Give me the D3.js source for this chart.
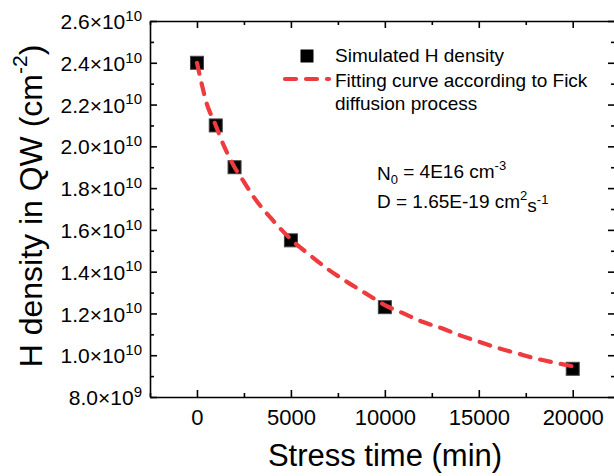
<!DOCTYPE html>
<html>
<head>
<meta charset="utf-8">
<title>H density</title>
<script src="https://cdn.jsdelivr.net/npm/d3@7"></script>
<style>
  body { margin: 0; background: #fff; }
  svg { display: block; font-family: "Liberation Sans", Arial, sans-serif; }
  .axis path, .axis line { stroke: #000; stroke-width: 1.6; }
</style>
</head>
<body>
<script>
// simulated points
var stressTime = [0, 1000, 2000, 5000, 10000, 20000];
var hDensity = [2.40e10, 2.10e10, 1.90e10, 1.55e10, 1.23e10, 0.935e10];

// fitting curve
var fitTime = [0, 250, 500, 750, 1000, 1300, 1600, 2000, 2500, 3000, 4000, 5000, 6000, 7000,
  8000, 9000, 10000, 11000, 12000, 13000, 14000, 15000, 16000, 17000, 18000, 19000, 20000];
var fitDensity = [2.40e10, 2.30e10, 2.21e10, 2.15e10, 2.10e10, 2.03e10, 1.97e10, 1.90e10, 1.83e10,
  1.76e10, 1.65e10, 1.555e10, 1.48e10, 1.41e10, 1.35e10, 1.295e10, 1.24e10, 1.20e10, 1.16e10,
  1.13e10, 1.095e10, 1.065e10, 1.035e10, 1.01e10, 0.985e10, 0.965e10, 0.947e10];

var xTicks = [0, 5000, 10000, 15000, 20000];
var xMinor = [-2500, 2500, 7500, 12500, 17500, 22500];
var yTicks = [0.8e10, 1.0e10, 1.2e10, 1.4e10, 1.6e10, 1.8e10, 2.0e10, 2.2e10, 2.4e10, 2.6e10];
var yMinor = [0.9e10, 1.1e10, 1.3e10, 1.5e10, 1.7e10, 1.9e10, 2.1e10, 2.3e10, 2.5e10];
var yMantissa = ["8.0", "1.0", "1.2", "1.4", "1.6", "1.8", "2.0", "2.2", "2.4", "2.6"];
var yExponent = ["9", "10", "10", "10", "10", "10", "10", "10", "10", "10"];

var W = 614, H = 476;
var pLeft = 150, pRight = 615, pTop = 21, pBottom = 397;

var svg = d3.select("body").append("svg")
  .attr("width", W).attr("height", H);

var x = d3.scaleLinear().domain([-2500, 22250]).range([pLeft, pRight]);
var y = d3.scaleLinear().domain([0.8e10, 2.6e10]).range([pBottom, pTop]);

// bottom axis
var gx = svg.append("g").attr("class", "axis")
  .attr("transform", "translate(0," + pBottom + ")")
  .call(d3.axisBottom(x).tickValues(xTicks).tickSizeInner(-7).tickSizeOuter(0).tickPadding(12)
    .tickFormat(d3.format("d")));
gx.selectAll("text").attr("font-size", 22).attr("fill", "#000").attr("font-family", null);
svg.append("g").attr("class", "axis")
  .attr("transform", "translate(0," + pBottom + ")")
  .call(d3.axisBottom(x).tickValues(xMinor).tickSizeInner(-4).tickSizeOuter(0).tickFormat(""))
  .select(".domain").remove();

// top axis
svg.append("g").attr("class", "axis")
  .attr("transform", "translate(0," + pTop + ")")
  .call(d3.axisTop(x).tickValues(xTicks).tickSizeInner(-7).tickSizeOuter(0).tickFormat(""));
svg.append("g").attr("class", "axis")
  .attr("transform", "translate(0," + pTop + ")")
  .call(d3.axisTop(x).tickValues(xMinor).tickSizeInner(-4).tickSizeOuter(0).tickFormat(""))
  .select(".domain").remove();

// left axis
var gy = svg.append("g").attr("class", "axis")
  .attr("transform", "translate(" + pLeft + ",0)")
  .call(d3.axisLeft(y).tickValues(yTicks).tickSizeInner(-7).tickSizeOuter(0).tickPadding(8)
    .tickFormat(""));
gy.selectAll(".tick text").each(function(d, i) {
  var t = d3.select(this).attr("font-size", 21).attr("fill", "#000").attr("font-family", null)
    .attr("dy", "0.36em");
  t.append("tspan").text(yMantissa[i] + "\u00d710");
  t.append("tspan").attr("font-size", 15).attr("dy", "-0.55em").text(yExponent[i]);
});
svg.append("g").attr("class", "axis")
  .attr("transform", "translate(" + pLeft + ",0)")
  .call(d3.axisLeft(y).tickValues(yMinor).tickSizeInner(-4).tickSizeOuter(0).tickFormat(""))
  .select(".domain").remove();

// right axis
svg.append("g").attr("class", "axis")
  .attr("transform", "translate(" + pRight + ",0)")
  .call(d3.axisRight(y).tickValues(yTicks).tickSizeInner(-7).tickSizeOuter(0).tickFormat(""));
svg.append("g").attr("class", "axis")
  .attr("transform", "translate(" + pRight + ",0)")
  .call(d3.axisRight(y).tickValues(yMinor).tickSizeInner(-4).tickSizeOuter(0).tickFormat(""))
  .select(".domain").remove();

// axis titles
svg.append("text")
  .attr("x", 385).attr("y", 466)
  .attr("text-anchor", "middle").attr("font-size", 31)
  .text("Stress time (min)");

var yt = svg.append("text")
  .attr("transform", "translate(42,206) rotate(-90)")
  .attr("text-anchor", "middle").attr("font-size", 32);
yt.append("tspan").text("H density in QW (cm");
yt.append("tspan").attr("font-size", 21).attr("dy", "-0.7em").text("-2");
yt.append("tspan").attr("dy", "0.45em").text(")");

// squares
var sq = 13;
svg.selectAll(".pt")
  .data(stressTime)
  .enter().append("rect")
  .attr("class", "pt")
  .attr("x", function(d) { return x(d) - sq / 2; })
  .attr("y", function(d, i) { return y(hDensity[i]) - sq / 2; })
  .attr("width", sq).attr("height", sq)
  .attr("fill", "#000").attr("stroke", "#444").attr("stroke-width", 1);

// fit curve
var red = "#ef3b40";
var line = d3.line()
  .x(function(d) { return x(d); })
  .y(function(d, i) { return y(fitDensity[i]); })
  .curve(d3.curveMonotoneX);

svg.append("path")
  .datum(fitTime)
  .attr("d", line)
  .attr("fill", "none")
  .attr("stroke", red)
  .attr("stroke-width", 4.2)
  .attr("stroke-linecap", "round")
  .attr("stroke-dasharray", "11,10");

// legend
svg.append("rect")
  .attr("x", 307 - sq / 2).attr("y", 56 - sq / 2)
  .attr("width", sq).attr("height", sq)
  .attr("fill", "#000");
svg.append("line")
  .attr("x1", 285).attr("x2", 329).attr("y1", 79).attr("y2", 79)
  .attr("stroke", red).attr("stroke-width", 4.2)
  .attr("stroke-linecap", "round").attr("stroke-dasharray", "11,10");

var legendText = ["Simulated H density", "Fitting curve according to Fick", "diffusion process"];
var legendY = [62, 87, 110];
svg.selectAll(".lg")
  .data(legendText)
  .enter().append("text")
  .attr("class", "lg")
  .attr("x", 335)
  .attr("y", function(d, i) { return legendY[i]; })
  .attr("font-size", 19)
  .text(function(d) { return d; });

// annotation
var a1 = svg.append("text").attr("x", 377).attr("y", 180).attr("font-size", 19);
a1.append("tspan").text("N");
a1.append("tspan").attr("font-size", 13).attr("dy", "0.3em").text("0");
a1.append("tspan").attr("dy", "-0.3em").text(" = 4E16 cm");
a1.append("tspan").attr("font-size", 13).attr("dy", "-0.6em").text("-3");

var a2 = svg.append("text").attr("x", 377).attr("y", 208).attr("font-size", 19);
a2.append("tspan").text("D = 1.65E-19 cm");
a2.append("tspan").attr("font-size", 13).attr("dy", "-0.6em").text("2");
a2.append("tspan").attr("dy", "0.6em").text("s");
a2.append("tspan").attr("font-size", 13).attr("dy", "-0.6em").text("-1");
</script>
</body>
</html>
